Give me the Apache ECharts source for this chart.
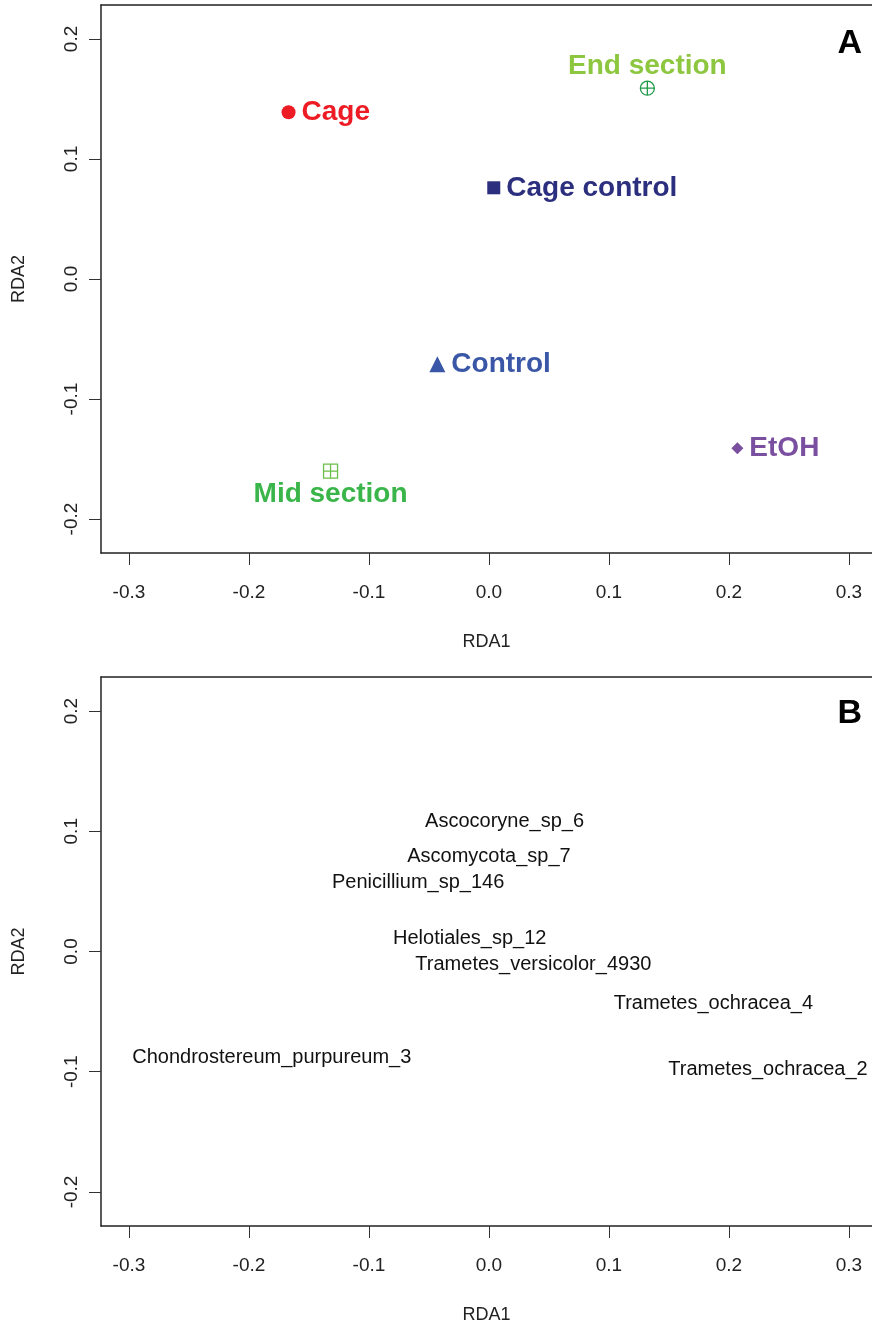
<!DOCTYPE html>
<html>
<head>
<meta charset="utf-8">
<script src="https://cdn.jsdelivr.net/npm/echarts@6/dist/echarts.min.js"></script>
<style>
  html, body { margin: 0; padding: 0; background: #fff; }
  #chart { width: 872px; height: 1326px; }
</style>
</head>
<body>
<div id="chart"></div>
<script>
// RDA ordination: treatment centroids (A) and fungal species scores (B)
const treatments = ['Cage', 'End section', 'Cage control', 'Control', 'EtOH', 'Mid section'];
const treatRDA1 = [-0.167, 0.132, 0.004, -0.043, 0.207, -0.132];
const treatRDA2 = [0.139, 0.159, 0.076, -0.071, -0.141, -0.160];

const species = ['Ascocoryne_sp_6', 'Ascomycota_sp_7', 'Penicillium_sp_146', 'Helotiales_sp_12',
  'Trametes_versicolor_4930', 'Trametes_ochracea_4', 'Chondrostereum_purpureum_3', 'Trametes_ochracea_2'];
const speciesRDA1 = [0.013, 0.000, -0.059, -0.016, 0.037, 0.187, -0.181, 0.2325];
const speciesRDA2 = [0.108, 0.079, 0.0575, 0.011, -0.011, -0.043, -0.088, -0.098];

const xTicks = [-0.3, -0.2, -0.1, 0.0, 0.1, 0.2, 0.3];
const yTicks = [-0.2, -0.1, 0.0, 0.1, 0.2];
const panelLetters = ['A', 'B'];

const FONT = '"Liberation Sans", Arial, Helvetica, sans-serif';

// symbol outlines for the section markers
const circlePlus = 'path://M10,0A10,10,0,1,1,9.99,0ZM10,0L10,20M0,10L20,10';
const squarePlus = 'path://M0,0L20,0L20,20L0,20ZM10,0L10,20M0,10L20,10';

const markerStyles = {
  'Cage':         { symbol: 'circle',   size: 14, fill: '#ED1C24', text: '#ED1C24', pos: 'right',  dist: 6 },
  'End section':  { symbol: circlePlus, size: 14, stroke: '#1F9A48', text: '#8DC63F', pos: 'top',   dist: 0 },
  'Cage control': { symbol: 'rect',     size: 13, fill: '#2B2F7E', text: '#2B2F7E', pos: 'right',  dist: 6 },
  'Control':      { symbol: 'triangle', size: 16, fill: '#3A56A6', text: '#3A56A6', pos: 'right',  dist: 6 },
  'EtOH':         { symbol: 'diamond',  size: 12, fill: '#7B4FA0', text: '#7B4FA0', pos: 'right',  dist: 6 },
  'Mid section':  { symbol: squarePlus, size: 14, stroke: '#6CBF4A', text: '#3AB54A', pos: 'bottom', dist: 2 }
};

// plot region runs past the right edge of the page, so the right frame side is not drawn
const xMin = -0.3233, xMax = 0.3192, yMin = -0.2283, yMax = 0.2283;

function fmt(v) { return Number(v).toFixed(1); }

function xAxisFor(idx) {
  return {
    type: 'value', gridIndex: idx, min: xMin, max: xMax,
    name: 'RDA1', nameLocation: 'middle', nameGap: 80,
    nameTextStyle: { fontFamily: FONT, fontSize: 18, color: '#222' },
    axisLine: { show: true, onZero: false, lineStyle: { color: '#222', width: 1.5 } },
    axisTick: { show: true, length: 12, customValues: xTicks, lineStyle: { color: '#333', width: 1 } },
    axisLabel: { show: true, customValues: xTicks, formatter: fmt, margin: 30,
      fontFamily: FONT, fontSize: 19, color: '#222' },
    splitLine: { show: false }
  };
}

// top frame line of each panel
function topAxisFor(idx) {
  return {
    type: 'value', gridIndex: idx, min: xMin, max: xMax, position: 'top',
    axisLine: { show: true, onZero: false, lineStyle: { color: '#222', width: 1.5 } },
    axisTick: { show: false }, axisLabel: { show: false }, splitLine: { show: false }
  };
}

function yAxisFor(idx) {
  return {
    type: 'value', gridIndex: idx, min: yMin, max: yMax,
    name: 'RDA2', nameLocation: 'middle', nameGap: 73,
    nameTextStyle: { fontFamily: FONT, fontSize: 18, color: '#222' },
    axisLine: { show: true, onZero: false, lineStyle: { color: '#222', width: 1.5 } },
    axisTick: { show: true, length: 12, customValues: yTicks, lineStyle: { color: '#333', width: 1 } },
    axisLabel: { show: true, customValues: yTicks, formatter: fmt, rotate: 90, margin: 20,
      fontFamily: FONT, fontSize: 19, color: '#222' },
    splitLine: { show: false }
  };
}

const treatSeries = treatments.map((name, i) => {
  const m = markerStyles[name];
  const outline = !!m.stroke;
  return {
    type: 'scatter', name: name, xAxisIndex: 0, yAxisIndex: 0,
    symbol: m.symbol, symbolSize: m.size,
    itemStyle: outline
      ? { color: 'rgba(0,0,0,0)', borderColor: m.stroke, borderWidth: 1.3, opacity: 1 }
      : { color: m.fill, opacity: 1 },
    label: {
      show: true, formatter: name, position: m.pos, distance: m.dist,
      fontFamily: FONT, fontWeight: 'bold', fontSize: 28, color: m.text, opacity: 1
    },
    emphasis: { disabled: true },
    data: [[treatRDA1[i], treatRDA2[i]]]
  };
});

const speciesSeries = {
  type: 'scatter', name: 'species', xAxisIndex: 2, yAxisIndex: 1,
  symbol: 'circle', symbolSize: 1,
  itemStyle: { color: 'rgba(0,0,0,0)', opacity: 1 },
  label: {
    show: true, position: 'inside', formatter: p => p.data.name,
    fontFamily: FONT, fontSize: 20, color: '#111', opacity: 1
  },
  emphasis: { disabled: true },
  data: species.map((s, i) => ({ name: s, value: [speciesRDA1[i], speciesRDA2[i]] }))
};

const chart = echarts.init(document.getElementById('chart'), null, { renderer: 'canvas' });
chart.setOption({
  animation: false,
  backgroundColor: '#fff',
  grid: [
    { left: 101, top: 5, right: 0, height: 548 },
    { left: 101, top: 677, right: 0, height: 549 }
  ],
  xAxis: [xAxisFor(0), topAxisFor(0), xAxisFor(1), topAxisFor(1)],
  yAxis: [yAxisFor(0), yAxisFor(1)],
  graphic: panelLetters.map((t, i) => ({
    type: 'text', right: 10, top: i === 0 ? 27 : 697,
    style: { text: t, fontFamily: FONT, fontWeight: 'bold', fontSize: 34, fill: '#000' }
  })),
  series: treatSeries.concat([speciesSeries])
});
</script>
</body>
</html>
